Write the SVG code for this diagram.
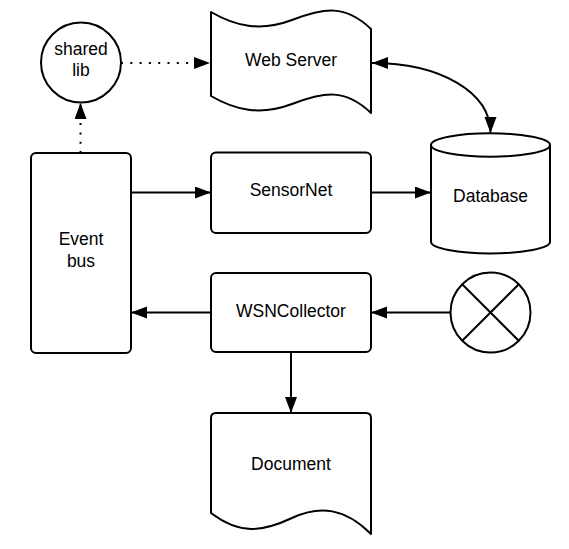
<svg xmlns="http://www.w3.org/2000/svg" width="569" height="549" viewBox="0 0 569 549">
  <style>
    .shape { fill: #ffffff; stroke: #000000; stroke-width: 2; stroke-linejoin: round; }
    .label { font-family: "Liberation Sans", Arial, sans-serif; font-size: 17.5px; fill: #000000; text-anchor: middle; }
    .edge { fill: none; stroke: #000000; stroke-width: 2; }
    .dotted { stroke-dasharray: 2 7.3; }
  </style>
  <defs>
    <marker id="arrow" markerUnits="userSpaceOnUse" markerWidth="17" markerHeight="13" refX="16" refY="6" orient="auto-start-reverse" viewBox="0 0 17 13">
      <path d="M0,0 L16,6 L0,12 Z" fill="#000000"/>
    </marker>
  </defs>
  <rect width="569" height="549" fill="#ffffff"/>

  <g id="connectors">
    <path class="edge dotted" d="M121,63 L210,63" marker-end="url(#arrow)"/>
    <path class="edge dotted" d="M80.5,153 L80.5,103" marker-end="url(#arrow)"/>
    <path class="edge" d="M372,63 C440,63 490.5,92 490.5,133" marker-start="url(#arrow)" marker-end="url(#arrow)"/>
    <path class="edge" d="M131,192.5 L211,192.5" marker-end="url(#arrow)"/>
    <path class="edge" d="M371,192.5 L431,192.5" marker-end="url(#arrow)"/>
    <path class="edge" d="M211,312.5 L131,312.5" marker-end="url(#arrow)"/>
    <path class="edge" d="M450.5,312.5 L371,312.5" marker-end="url(#arrow)"/>
    <path class="edge" d="M291,352 L291,413" marker-end="url(#arrow)"/>
  </g>

  <g id="shared-lib">
    <circle class="shape" cx="81" cy="62.5" r="40"/>
    <text class="label" x="81" y="55">shared</text>
    <text class="label" x="81" y="76">lib</text>
  </g>

  <g id="web-server">
    <path class="shape" d="M211,12 C235,26 260,32 292,20 S345,4 371,29 L371,113 C345,88 324,92 292,104 S235,110 211,96 Z"/>
    <text class="label" x="291" y="66">Web Server</text>
  </g>

  <g id="event-bus">
    <rect class="shape" x="31" y="153" width="100" height="200" rx="5"/>
    <text class="label" x="81" y="245">Event</text>
    <text class="label" x="81" y="266.5">bus</text>
  </g>

  <g id="sensornet">
    <rect class="shape" x="211" y="152.5" width="160" height="80.5" rx="5"/>
    <text class="label" x="291" y="196">SensorNet</text>
  </g>

  <g id="database">
    <path class="shape" d="M431,145 L431,241.7 A59.5,11.7 0 0 0 550,241.7 L550,145"/>
    <ellipse class="shape" cx="490.5" cy="145" rx="59.5" ry="11.7"/>
    <text class="label" x="490.5" y="201.7">Database</text>
  </g>

  <g id="wsncollector">
    <rect class="shape" x="211" y="273" width="160" height="79" rx="5"/>
    <text class="label" x="291" y="316.5">WSNCollector</text>
  </g>

  <g id="terminator">
    <circle class="shape" cx="490.5" cy="312.5" r="40"/>
    <path class="edge" d="M462.2,284.2 L518.8,340.8 M518.8,284.2 L462.2,340.8"/>
  </g>

  <g id="document">
    <path class="shape" d="M216,413 L366,413 Q371,413 371,418 L371,534 C345,508 320,505 292,518 C262,532 240,535 211,513 L211,418 Q211,413 216,413 Z"/>
    <text class="label" x="291" y="469.5">Document</text>
  </g>
</svg>
